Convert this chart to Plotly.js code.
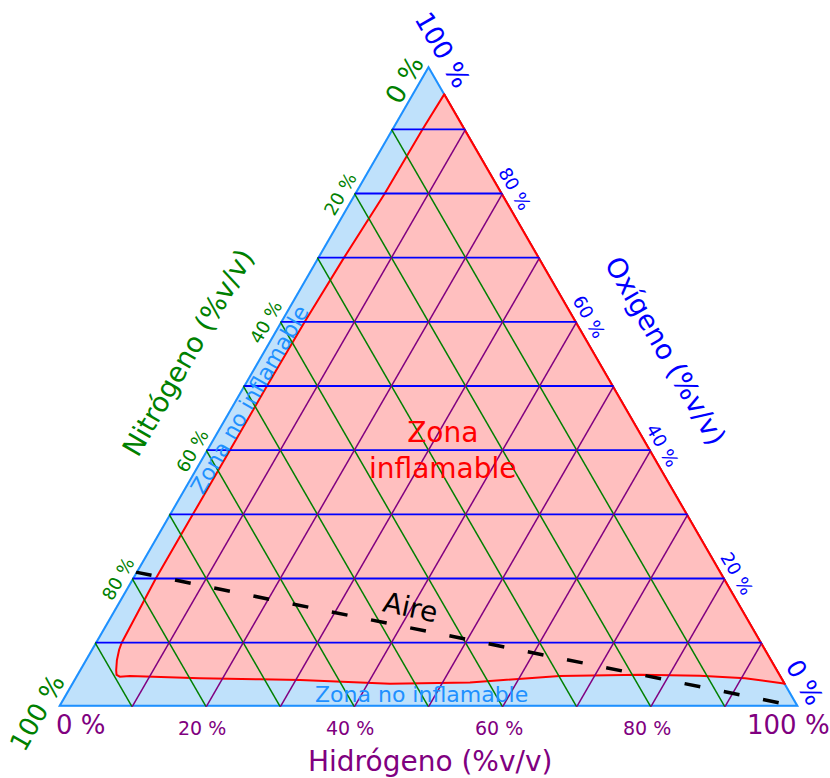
<!DOCTYPE html>
<html>
<head>
<meta charset="utf-8">
<script src="https://cdn.plot.ly/plotly-3.0.1.min.js"></script>
<style>
html, body { margin: 0; padding: 0; background: #ffffff; }
#chart { width: 830px; height: 778px; }
</style>
</head>
<body>
<div id="chart"></div>
<script>
// ---------------- DATA ----------------
// tick values (percent) shared by the three axes
const tickValues = [0, 20, 40, 60, 80, 100];
const tickLabels = ["0 %", "20 %", "40 %", "60 %", "80 %", "100 %"];

// Boundary of the flammable zone (Oxígeno / Nitrógeno / Hidrógeno, %v/v)
const flamO = [95.6, 90, 80, 70, 60, 50, 40, 30, 20, 10, 8.9, 7.3, 5.7, 5.0, 4.7, 4.8, 4.45, 4.3, 4.2, 3.6, 3.8, 4.8, 5.0, 4.85, 4.45, 3.6, 95.6];
const flamN = [0, 5.8, 15.9, 26.4, 36.7, 46.8, 56.8, 66.8, 76.8, 86.4, 87.3, 88.4, 89.3, 89.6, 89.3, 87.9, 78.65, 70.6, 65.2, 53.4, 42.5, 29.9, 18.9, 10.95, 5.05, 0, 0];
const flamH = [4.4, 4.2, 4.1, 3.6, 3.3, 3.2, 3.2, 3.2, 3.2, 3.6, 3.8, 4.3, 5.0, 5.4, 6.0, 7.3, 16.9, 25.1, 30.6, 43.0, 53.7, 65.3, 76.1, 84.2, 90.5, 96.4, 4.4];

// Part of the flammable boundary lying on the O2-H2 edge (no nitrogen)
const edgeO = [95.6, 3.6];
const edgeN = [0, 0];
const edgeH = [4.4, 96.4];

// Air + hydrogen mixing line
const airO = [21, 0];
const airN = [79, 0];
const airH = [0, 100];

// Triangle frame (pure components)
const frameO = [100, 0, 0, 100];
const frameN = [0, 100, 0, 0];
const frameH = [0, 0, 100, 0];

// ---------------- STYLE / LAYOUT ----------------
const FONT = "DejaVu Sans";
const GREEN = "#008000", BLUE = "#0000ff", PURPLE = "#800080", RED = "#ff0000", SKY = "#1e90ff";
const W = 830, H = 778;
const M = { l: 58, r: 31, t: 65, b: 71 };
const plotW = W - M.l - M.r;
const plotH = H - M.t - M.b;
const side = Math.min(plotW, plotH * 2 / Math.sqrt(3));
const triH = side * Math.sqrt(3) / 2;
const X0 = M.l + (plotW - side) / 2;
const Ybot = M.t + plotH / 2 + triH / 2;

function ternPx(o, n, h) {
  const s = o + n + h, a = o / s, c = h / s;
  return [X0 + (c + a / 2) * side, Ybot - a * triH];
}
function toPaper(px, py) { return [(px - M.l) / plotW, (H - M.b - py) / plotH]; }

const annotations = [];
function addText(text, px, py, size, color, angle) {
  const p = toPaper(px, py);
  annotations.push({
    xref: "paper", yref: "paper", x: p[0], y: p[1],
    xanchor: "center", yanchor: "middle", showarrow: false,
    text: text, textangle: angle || 0,
    font: { family: FONT, size: size, color: color }
  });
}

tickValues.forEach(function (v, i) {
  const isEnd = (i === 0 || i === tickValues.length - 1);
  let xy, off;
  // bottom edge: Hidrógeno
  xy = ternPx(0, 100 - v, v);
  off = v === 0 ? [23, 18.5] : (v === 100 ? [-11, 18] : [-4, 21]);
  addText(tickLabels[i], xy[0] + off[0], xy[1] + off[1], isEnd ? 26 : 19, PURPLE, 0);
  // left edge: Nitrógeno
  xy = ternPx(100 - v, v, 0);
  off = v === 0 ? [-24, 15] : (v === 100 ? [-21, 6] : [-14, 0]);
  addText(tickLabels[i], xy[0] + off[0], xy[1] + off[1], isEnd ? 26 : 18, GREEN, -60);
  // right edge: Oxígeno
  xy = ternPx(v, 0, 100 - v);
  off = v === 100 ? [14, -15] : (v === 0 ? [5, -24] : [12, -5]);
  addText(tickLabels[i], xy[0] + off[0], xy[1] + off[1], v === 0 ? 25 : (isEnd ? 26 : 18), BLUE, 60);
});

// axis titles
addText("Hidrógeno (%v/v)", 430, 761.5, 28, PURPLE, 0);
addText("Nitrógeno (%v/v)", 187, 352.5, 27.5, GREEN, -60);
addText("Oxígeno (%v/v)", 665.5, 350, 27.5, BLUE, 60);
// zone labels
addText("Zona<br>inflamable", 443, 450, 28, RED, 0);
addText("Aire", 410.5, 607, 28, "#000000", 12);
addText("Zona no inflamable", 421.7, 694.7, 22, SKY, 0);
addText("Zona no inflamable", 249, 400, 22, SKY, -60);

const baseAxis = {
  title: { text: "" },
  showgrid: false, showticklabels: false, ticks: "", showline: false
};
function gridAxis(color, width) {
  return {
    title: { text: "" },
    showgrid: true, gridcolor: color, gridwidth: width,
    tickmode: "linear", tick0: 0, dtick: 10,
    showticklabels: false, ticks: "", showline: false
  };
}

const traces = [
  {
    type: "scatterternary", subplot: "ternary", mode: "lines",
    a: frameO, b: frameN, c: frameH,
    line: { color: SKY, width: 4 },
    cliponaxis: false, hoverinfo: "skip", showlegend: false
  },
  {
    type: "scatterternary", subplot: "ternary", mode: "lines",
    a: flamO, b: flamN, c: flamH,
    fill: "toself", fillcolor: "#ffbfbf",
    line: { color: RED, width: 2 },
    cliponaxis: false, hoverinfo: "skip", showlegend: false
  },
  {
    type: "scatterternary", subplot: "ternary", mode: "lines",
    a: edgeO, b: edgeN, c: edgeH,
    line: { color: RED, width: 4 },
    cliponaxis: false, hoverinfo: "skip", showlegend: false
  },
  {
    type: "scatterternary", subplot: "ternary2", mode: "lines",
    a: airO, b: airN, c: airH,
    line: { color: "#000000", width: 3.5, dash: "16px,24px" },
    cliponaxis: false, hoverinfo: "skip", showlegend: false
  }
];

const layout = {
  width: W, height: H,
  margin: M,
  paper_bgcolor: "#ffffff",
  showlegend: false,
  font: { family: FONT },
  ternary: {
    sum: 100, bgcolor: "#bfe1fb",
    domain: { x: [0, 1], y: [0, 1] },
    aaxis: Object.assign({}, baseAxis),
    baxis: Object.assign({}, baseAxis),
    caxis: Object.assign({}, baseAxis)
  },
  ternary2: {
    sum: 100, bgcolor: "rgba(0,0,0,0)",
    domain: { x: [0, 1], y: [0, 1] },
    aaxis: gridAxis(BLUE, 1.8),
    baxis: gridAxis(GREEN, 1.5),
    caxis: gridAxis(PURPLE, 1.5)
  },
  annotations: annotations
};

Plotly.newPlot("chart", traces, layout, { staticPlot: true, displayModeBar: false });
</script>
</body>
</html>
